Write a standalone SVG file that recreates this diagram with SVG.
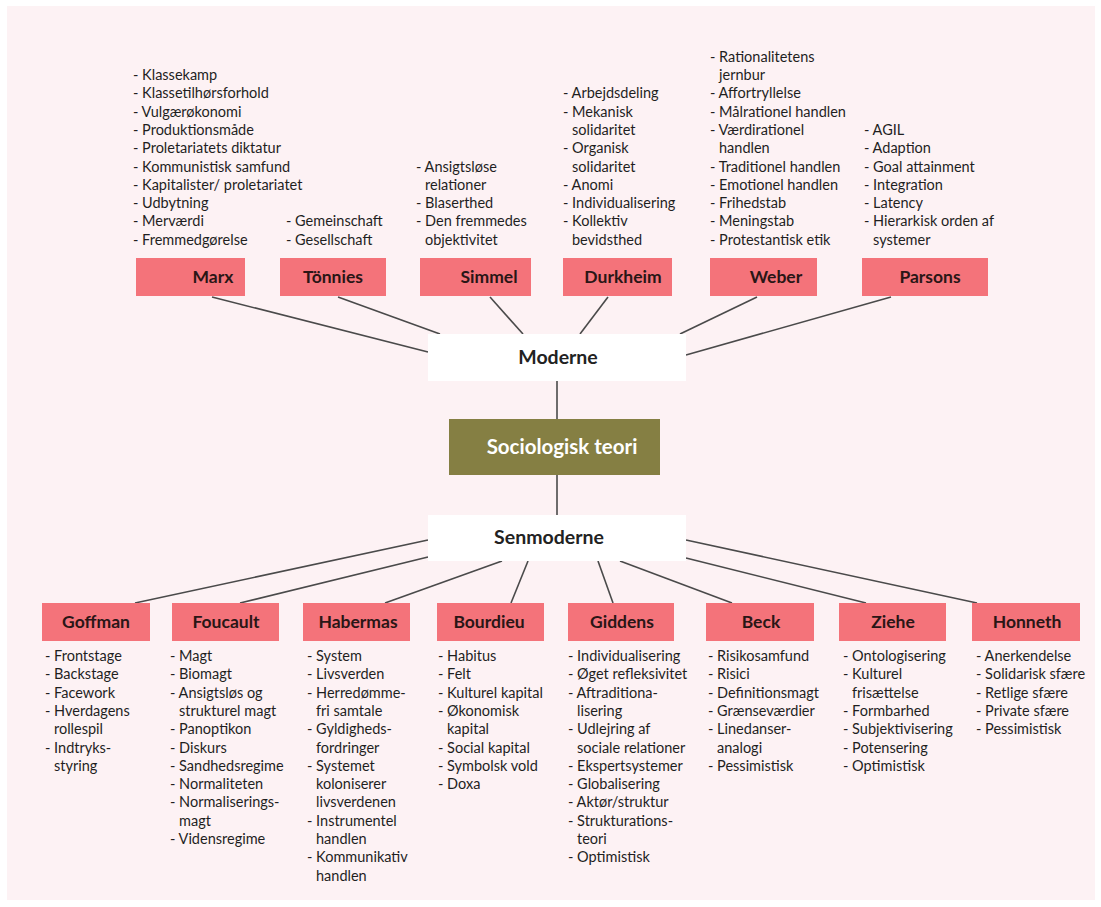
<svg xmlns="http://www.w3.org/2000/svg" width="1101" height="907" viewBox="0 0 1101 907">
<style>
.bg{fill:#fdf2f4}
.box{fill:#f4737a}
.name{font-family:Lato,"Open Sans",sans-serif;font-weight:bold;font-size:17.5px;fill:#2a1616;text-anchor:middle}
.hub{fill:#ffffff}
.hubt{font-family:Lato,"Open Sans",sans-serif;font-weight:bold;font-size:19.5px;fill:#222;text-anchor:middle}
.core{fill:#857f43}
.coret{font-family:Lato,"Open Sans",sans-serif;font-weight:bold;font-size:20.5px;fill:#ffffff;text-anchor:middle}
.lst{font-family:Lato,"Open Sans",sans-serif;font-size:14.5px;fill:#1f1f1f}
.con line{stroke:#4a4a4a;stroke-width:1.6}
</style>
<rect x="0" y="0" width="1101" height="907" fill="#ffffff"/>
<rect class="bg" x="7" y="6" width="1088" height="894"/>

<g id="connectors" class="con">
<line x1="212" y1="297" x2="428" y2="352"/>
<line x1="338" y1="297" x2="440" y2="334"/>
<line x1="490" y1="297" x2="523" y2="334"/>
<line x1="608" y1="297" x2="580" y2="334"/>
<line x1="757" y1="297" x2="680" y2="334"/>
<line x1="891" y1="297" x2="686" y2="355"/>
<line x1="557" y1="381" x2="557" y2="419"/>
<line x1="557" y1="475" x2="557" y2="515"/>
<line x1="428" y1="540" x2="135" y2="603"/>
<line x1="428" y1="557" x2="240" y2="603"/>
<line x1="502" y1="561" x2="385" y2="603"/>
<line x1="528" y1="561" x2="511" y2="603"/>
<line x1="598" y1="561" x2="613" y2="603"/>
<line x1="620" y1="561" x2="732" y2="603"/>
<line x1="686" y1="558" x2="866" y2="603"/>
<line x1="686" y1="540" x2="977" y2="603"/>
</g>

<g id="moderne"><rect class="hub" x="428" y="334" width="258" height="47"/><text class="hubt" x="558" y="364">Moderne</text></g>
<g id="sociologisk-teori"><rect class="core" x="449" y="419" width="211" height="56"/><text class="coret" x="562" y="454">Sociologisk teori</text></g>
<g id="senmoderne"><rect class="hub" x="428" y="515" width="258" height="46"/><text class="hubt" x="549" y="544">Senmoderne</text></g>

<g id="marx"><rect class="box" x="136" y="258" width="109" height="38"/><text class="name" x="213" y="283">Marx</text>
<text class="lst" y="80"><tspan x="133">- Klassekamp</tspan><tspan x="133" dy="18.3">- Klassetilhørsforhold</tspan><tspan x="133" dy="18.3">- Vulgærøkonomi</tspan><tspan x="133" dy="18.3">- Produktionsmåde</tspan><tspan x="133" dy="18.3">- Proletariatets diktatur</tspan><tspan x="133" dy="18.3">- Kommunistisk samfund</tspan><tspan x="133" dy="18.3">- Kapitalister/ proletariatet</tspan><tspan x="133" dy="18.3">- Udbytning</tspan><tspan x="133" dy="18.3">- Merværdi</tspan><tspan x="133" dy="18.3">- Fremmedgørelse</tspan></text></g>

<g id="tonnies"><rect class="box" x="280" y="258" width="106" height="38"/><text class="name" x="333" y="283">Tönnies</text>
<text class="lst" y="226.4"><tspan x="286">- Gemeinschaft</tspan><tspan x="286" dy="18.3">- Gesellschaft</tspan></text></g>

<g id="simmel"><rect class="box" x="420" y="258" width="111" height="38"/><text class="name" x="489" y="283">Simmel</text>
<text class="lst" y="171.5"><tspan x="416">- Ansigtsløse</tspan><tspan x="425" dy="18.3">relationer</tspan><tspan x="416" dy="18.3">- Blaserthed</tspan><tspan x="416" dy="18.3">- Den fremmedes</tspan><tspan x="425" dy="18.3">objektivitet</tspan></text></g>

<g id="durkheim"><rect class="box" x="563" y="258" width="109" height="38"/><text class="name" x="623" y="283">Durkheim</text>
<text class="lst" y="98.3"><tspan x="563">- Arbejdsdeling</tspan><tspan x="563" dy="18.3">- Mekanisk</tspan><tspan x="572" dy="18.3">solidaritet</tspan><tspan x="563" dy="18.3">- Organisk</tspan><tspan x="572" dy="18.3">solidaritet</tspan><tspan x="563" dy="18.3">- Anomi</tspan><tspan x="563" dy="18.3">- Individualisering</tspan><tspan x="563" dy="18.3">- Kollektiv</tspan><tspan x="572" dy="18.3">bevidsthed</tspan></text></g>

<g id="weber"><rect class="box" x="710" y="258" width="107" height="38"/><text class="name" x="776" y="283">Weber</text>
<text class="lst" y="61.7"><tspan x="710">- Rationalitetens</tspan><tspan x="719" dy="18.3">jernbur</tspan><tspan x="710" dy="18.3">- Affortryllelse</tspan><tspan x="710" dy="18.3">- Målrationel handlen</tspan><tspan x="710" dy="18.3">- Værdirationel</tspan><tspan x="719" dy="18.3">handlen</tspan><tspan x="710" dy="18.3">- Traditionel handlen</tspan><tspan x="710" dy="18.3">- Emotionel handlen</tspan><tspan x="710" dy="18.3">- Frihedstab</tspan><tspan x="710" dy="18.3">- Meningstab</tspan><tspan x="710" dy="18.3">- Protestantisk etik</tspan></text></g>

<g id="parsons"><rect class="box" x="862" y="258" width="126" height="38"/><text class="name" x="930" y="283">Parsons</text>
<text class="lst" y="134.9"><tspan x="864">- AGIL</tspan><tspan x="864" dy="18.3">- Adaption</tspan><tspan x="864" dy="18.3">- Goal attainment</tspan><tspan x="864" dy="18.3">- Integration</tspan><tspan x="864" dy="18.3">- Latency</tspan><tspan x="864" dy="18.3">- Hierarkisk orden af</tspan><tspan x="873" dy="18.3">systemer</tspan></text></g>

<g id="goffman"><rect class="box" x="42" y="603" width="108" height="38"/><text class="name" x="96" y="628">Goffman</text>
<text class="lst" y="661"><tspan x="45">- Frontstage</tspan><tspan x="45" dy="18.3">- Backstage</tspan><tspan x="45" dy="18.3">- Facework</tspan><tspan x="45" dy="18.3">- Hverdagens</tspan><tspan x="54" dy="18.3">rollespil</tspan><tspan x="45" dy="18.3">- Indtryks-</tspan><tspan x="54" dy="18.3">styring</tspan></text></g>

<g id="foucault"><rect class="box" x="172" y="603" width="107" height="38"/><text class="name" x="226" y="628">Foucault</text>
<text class="lst" y="661"><tspan x="170">- Magt</tspan><tspan x="170" dy="18.3">- Biomagt</tspan><tspan x="170" dy="18.3">- Ansigtsløs og</tspan><tspan x="179" dy="18.3">strukturel magt</tspan><tspan x="170" dy="18.3">- Panoptikon</tspan><tspan x="170" dy="18.3">- Diskurs</tspan><tspan x="170" dy="18.3">- Sandhedsregime</tspan><tspan x="170" dy="18.3">- Normaliteten</tspan><tspan x="170" dy="18.3">- Normaliserings-</tspan><tspan x="179" dy="18.3">magt</tspan><tspan x="170" dy="18.3">- Vidensregime</tspan></text></g>

<g id="habermas"><rect class="box" x="303" y="603" width="107" height="38"/><text class="name" x="358" y="628">Habermas</text>
<text class="lst" y="661"><tspan x="307">- System</tspan><tspan x="307" dy="18.3">- Livsverden</tspan><tspan x="307" dy="18.3">- Herredømme-</tspan><tspan x="316" dy="18.3">fri samtale</tspan><tspan x="307" dy="18.3">- Gyldigheds-</tspan><tspan x="316" dy="18.3">fordringer</tspan><tspan x="307" dy="18.3">- Systemet</tspan><tspan x="316" dy="18.3">koloniserer</tspan><tspan x="316" dy="18.3">livsverdenen</tspan><tspan x="307" dy="18.3">- Instrumentel</tspan><tspan x="316" dy="18.3">handlen</tspan><tspan x="307" dy="18.3">- Kommunikativ</tspan><tspan x="316" dy="18.3">handlen</tspan></text></g>

<g id="bourdieu"><rect class="box" x="437" y="603" width="107" height="38"/><text class="name" x="489" y="628">Bourdieu</text>
<text class="lst" y="661"><tspan x="438">- Habitus</tspan><tspan x="438" dy="18.3">- Felt</tspan><tspan x="438" dy="18.3">- Kulturel kapital</tspan><tspan x="438" dy="18.3">- Økonomisk</tspan><tspan x="447" dy="18.3">kapital</tspan><tspan x="438" dy="18.3">- Social kapital</tspan><tspan x="438" dy="18.3">- Symbolsk vold</tspan><tspan x="438" dy="18.3">- Doxa</tspan></text></g>

<g id="giddens"><rect class="box" x="568" y="603" width="106" height="38"/><text class="name" x="622" y="628">Giddens</text>
<text class="lst" y="661"><tspan x="568">- Individualisering</tspan><tspan x="568" dy="18.3">- Øget refleksivitet</tspan><tspan x="568" dy="18.3">- Aftraditiona-</tspan><tspan x="577" dy="18.3">lisering</tspan><tspan x="568" dy="18.3">- Udlejring af</tspan><tspan x="577" dy="18.3">sociale relationer</tspan><tspan x="568" dy="18.3">- Ekspertsystemer</tspan><tspan x="568" dy="18.3">- Globalisering</tspan><tspan x="568" dy="18.3">- Aktør/struktur</tspan><tspan x="568" dy="18.3">- Strukturations-</tspan><tspan x="577" dy="18.3">teori</tspan><tspan x="568" dy="18.3">- Optimistisk</tspan></text></g>

<g id="beck"><rect class="box" x="706" y="603" width="108" height="38"/><text class="name" x="761" y="628">Beck</text>
<text class="lst" y="661"><tspan x="708">- Risikosamfund</tspan><tspan x="708" dy="18.3">- Risici</tspan><tspan x="708" dy="18.3">- Definitionsmagt</tspan><tspan x="708" dy="18.3">- Grænseværdier</tspan><tspan x="708" dy="18.3">- Linedanser-</tspan><tspan x="717" dy="18.3">analogi</tspan><tspan x="708" dy="18.3">- Pessimistisk</tspan></text></g>

<g id="ziehe"><rect class="box" x="839" y="603" width="107" height="38"/><text class="name" x="893" y="628">Ziehe</text>
<text class="lst" y="661"><tspan x="843">- Ontologisering</tspan><tspan x="843" dy="18.3">- Kulturel</tspan><tspan x="852" dy="18.3">frisættelse</tspan><tspan x="843" dy="18.3">- Formbarhed</tspan><tspan x="843" dy="18.3">- Subjektivisering</tspan><tspan x="843" dy="18.3">- Potensering</tspan><tspan x="843" dy="18.3">- Optimistisk</tspan></text></g>

<g id="honneth"><rect class="box" x="972" y="603" width="108" height="38"/><text class="name" x="1027" y="628">Honneth</text>
<text class="lst" y="661"><tspan x="976">- Anerkendelse</tspan><tspan x="976" dy="18.3">- Solidarisk sfære</tspan><tspan x="976" dy="18.3">- Retlige sfære</tspan><tspan x="976" dy="18.3">- Private sfære</tspan><tspan x="976" dy="18.3">- Pessimistisk</tspan></text></g>
</svg>
